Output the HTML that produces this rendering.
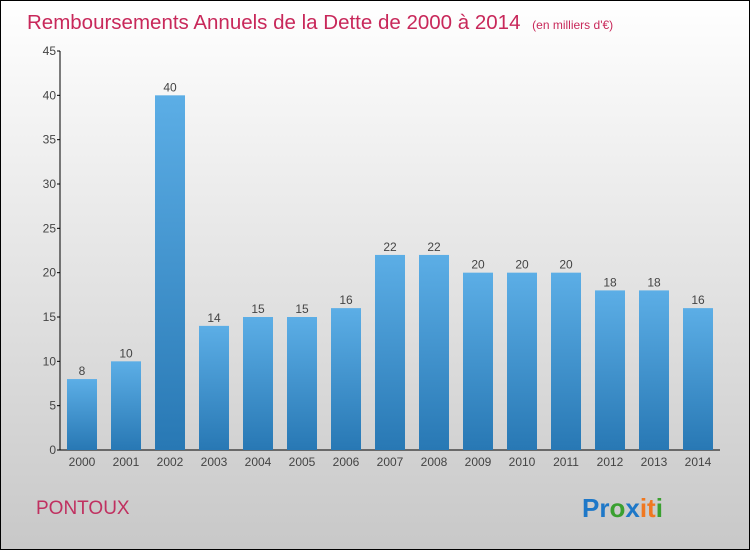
<!DOCTYPE html>
<html><head><meta charset="utf-8"><style>
html,body{margin:0;padding:0;width:750px;height:550px;overflow:hidden}
svg{display:block;font-family:"Liberation Sans",sans-serif}
</style></head><body>
<svg id="c" width="750" height="550" xmlns="http://www.w3.org/2000/svg">
<defs>
<linearGradient id="bg" x1="0" y1="0" x2="0" y2="1"><stop offset="0" stop-color="#ffffff"/><stop offset="1" stop-color="#c8c8c8"/></linearGradient>
<linearGradient id="bar" x1="0" y1="0" x2="0" y2="1"><stop offset="0" stop-color="#5caee6"/><stop offset="1" stop-color="#2878b4"/></linearGradient>
</defs>
<rect x="0.5" y="0.5" width="749" height="549" fill="url(#bg)" stroke="#000"/>
<text x="27" y="29" font-size="20.5" fill="#c8285a">Remboursements Annuels de la Dette de 2000 à 2014 <tspan font-size="12" dx="6">(en milliers d'€)</tspan></text>
<text x="36" y="514" font-size="19" fill="#c03060">PONTOUX</text>
<g font-size="26" font-weight="bold">
<text x="582" y="517"><tspan fill="#1e78c8">Pr</tspan><tspan fill="#3aa030">o</tspan><tspan fill="#1e78c8">x</tspan><tspan fill="#f07820">it</tspan><tspan fill="#3aa030">i</tspan></text>
</g>
<g id="axes"></g>
<g id="bars"></g>
</svg>
<script>
const categories=["2000","2001","2002","2003","2004","2005","2006","2007","2008","2009","2010","2011","2012","2013","2014"];
const values=[8,10,40,14,15,15,16,22,22,20,20,20,18,18,16];
const yTicks=[0,5,10,15,20,25,30,35,40,45];
const NS="http://www.w3.org/2000/svg";
const x0=60,x1=720,y0=450,yTop=51,yMax=45;
const y=v=>y0-(v/yMax)*(y0-yTop);
const step=44, bw=30;
const xc=i=>82+i*step;
function mk(t,a,p){const e=document.createElementNS(NS,t);for(const k in a)e.setAttribute(k,a[k]);p.appendChild(e);return e;}
const ax=document.getElementById('axes'),bs=document.getElementById('bars');
const yl=mk('line',{x1:x0,y1:yTop,x2:x0,y2:y0,stroke:'#000'},ax);


const xl=mk('line',{x1:x0,y1:y0,x2:x1,y2:y0,stroke:'#000'},ax);


yTicks.forEach(t=>{
 mk('line',{x1:x0-3,y1:y(t),x2:x0,y2:y(t),stroke:'#000'},ax);
 const tx=mk('text',{x:x0-4,y:y(t)+4,'font-size':12,fill:'#444','text-anchor':'end'},ax);
 tx.textContent=t;
 
 
});
categories.forEach((c,i)=>{
 const v=values[i];
 const r=mk('rect',{x:xc(i)-bw/2,y:y(v),width:bw,height:y0-y(v),fill:'url(#bar)'},bs);
 
 
 const l=mk('text',{x:xc(i),y:y(v)-4,'font-size':12,fill:'#444','text-anchor':'middle'},bs);
 l.textContent=v;
 
 
 const xt=mk('text',{x:xc(i),y:466,'font-size':12,fill:'#444','text-anchor':'middle'},ax);
 xt.textContent=c;
 
 
});
</script>
</body></html>
